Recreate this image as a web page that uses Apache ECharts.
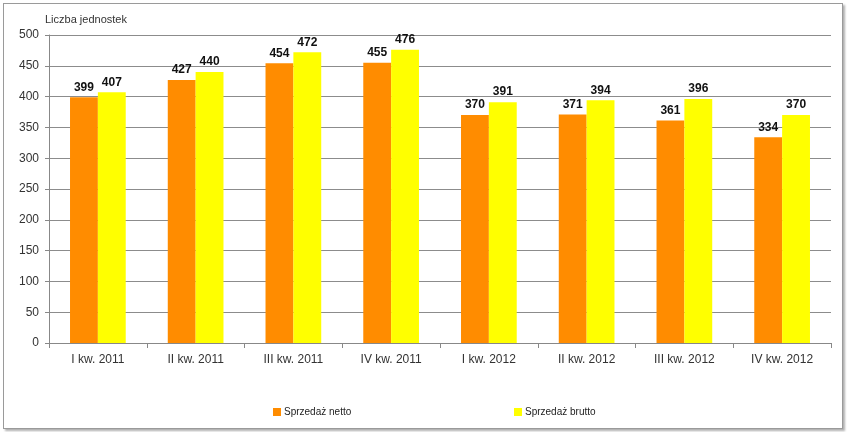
<!DOCTYPE html>
<html><head><meta charset="utf-8">
<script src="https://cdn.jsdelivr.net/npm/echarts@6/dist/echarts.min.js"></script>
<style>
html,body{margin:0;padding:0;background:#fff;}
#frame{position:absolute;left:3px;top:3px;width:838px;height:424px;border:1px solid #9a9a9a;box-shadow:2px 2px 2px #b0b0b0;}
#c{position:absolute;left:0;top:0;width:849px;height:432px;}
</style></head>
<body>
<div id="frame"></div>
<div id="c"></div>
<script>
const categories = ['I kw. 2011','II kw. 2011','III kw. 2011','IV kw. 2011','I kw. 2012','II kw. 2012','III kw. 2012','IV kw. 2012'];
const netto = [399,427,454,455,370,371,361,334];
const brutto = [407,440,472,476,391,394,396,370];
const seriesNames = ['Sprzedaż netto','Sprzedaż brutto'];
const yTitle = 'Liczba jednostek';

const font = 'Liberation Sans, Arial, sans-serif';
const chart = echarts.init(document.getElementById('c'));
const lbl = {show:true, position:'top', color:'#111', fontWeight:'bold', fontSize:12, fontFamily:font, distance:4};
chart.setOption({
  animation:false,
  grid:{left:49, right:18, top:35, bottom:89, containLabel:false},
  legend:[
    {data:[seriesNames[0]], left:268, top:402, itemWidth:8, itemHeight:8, itemGap:4, icon:'rect',
     textStyle:{fontSize:10, color:'#222', fontFamily:font, padding:[0,0,0,-2]}},
    {data:[seriesNames[1]], left:509, top:402, itemWidth:8, itemHeight:8, itemGap:4, icon:'rect',
     textStyle:{fontSize:10, color:'#222', fontFamily:font, padding:[0,0,0,-2]}}
  ],
  xAxis:{type:'category', data:categories,
    axisLine:{lineStyle:{color:'#888'}},
    axisTick:{show:true, length:5, lineStyle:{color:'#888'}},
    axisLabel:{color:'#333', fontSize:12, fontFamily:font, margin:11}},
  yAxis:{type:'value', min:0, max:500, interval:50, name:yTitle,
    nameLocation:'end', nameGap:10, nameTextStyle:{align:'left', color:'#333', fontSize:11, fontFamily:font, padding:[0,0,0,-4]},
    axisLine:{show:true, lineStyle:{color:'#888'}},
    axisTick:{show:true, length:4, lineStyle:{color:'#888'}},
    axisLabel:{color:'#333', fontSize:12, fontFamily:font, margin:10},
    splitLine:{lineStyle:{color:'#8c8c8c'}}},
  series:[
    {name:seriesNames[0], type:'bar', data:netto, barGap:'0%', barCategoryGap:'43%',
     itemStyle:{color:'#FF8C00'}, label:lbl},
    {name:seriesNames[1], type:'bar', data:brutto,
     itemStyle:{color:'#FFFF00'}, label:lbl}
  ]
});
</script>
</body></html>
